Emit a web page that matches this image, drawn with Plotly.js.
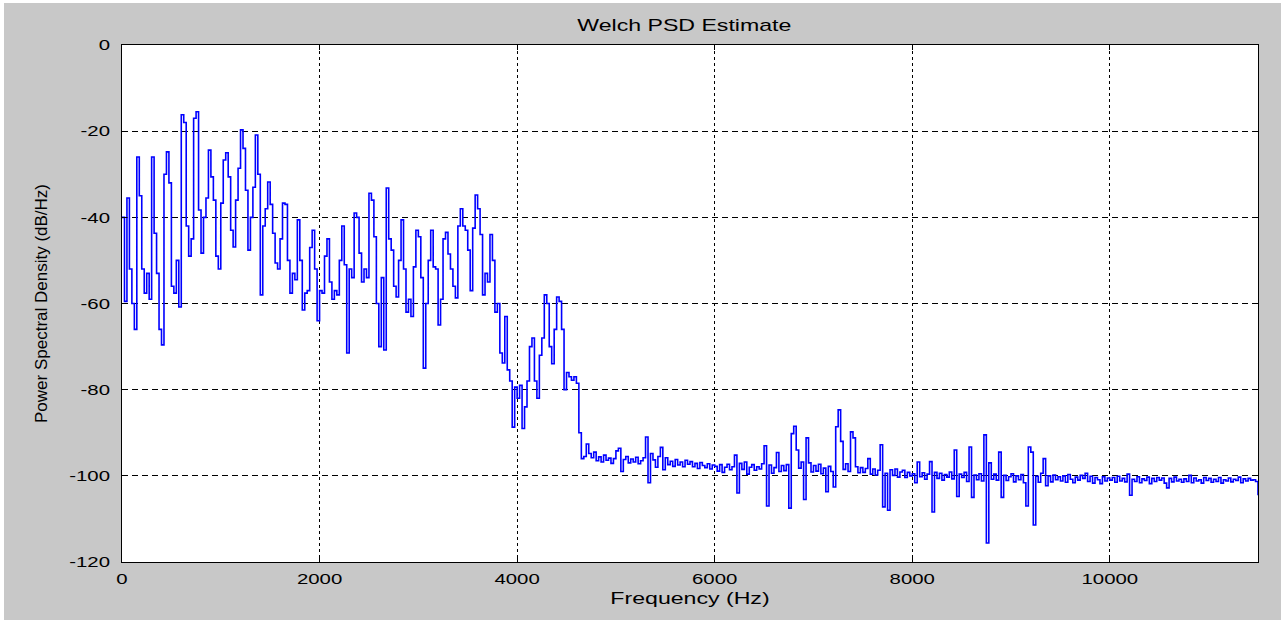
<!DOCTYPE html>
<html>
<head>
<meta charset="utf-8">
<script src="https://cdn.plot.ly/plotly-3.0.1.min.js"></script>
<style>
  html, body { margin: 0; padding: 0; background: #ffffff; width: 1281px; height: 620px; overflow: hidden; }
  #chart { position: absolute; left: 4px; top: 3px; width: 1277px; height: 617px; }
</style>
</head>
<body>
<div id="chart"></div>
<script>
const freqStepHz = 25;
const psdDb = [
  -40, -59.5, -35.5, -52, -60, -66, -26, -35, -52, -57.6,
  -53, -59, -26, -43.7, -53, -66, -69.6, -30, -24.8, -32,
  -56, -57.6, -50, -60.8, -16.2, -18, -42, -49, -45, -17,
  -15.5, -38.3, -48.3, -40, -35.5, -24.4, -30.6, -36, -49, -52,
  -36.7, -26.7, -25, -30.6, -43, -46.9, -36, -28.6, -19.7, -24,
  -33.7, -47.6, -40, -33, -20.9, -30, -58, -42, -38, -31.8,
  -37, -43.7, -50.6, -52, -45, -36.7, -37, -50, -57.6, -53,
  -54.5, -40.6, -50, -61.5, -57.6, -57, -47, -43, -52, -64,
  -57, -57.6, -49, -45, -55, -59, -57, -58, -50, -42,
  -51, -71.5, -52, -54, -39, -40, -48.3, -55, -52, -54,
  -34.4, -36, -44.5, -60, -70, -54, -70.8, -33.2, -45, -47.6,
  -56, -58.5, -50, -40.6, -52, -62, -59, -63, -51.5, -43,
  -44.5, -54, -75, -60, -50, -43, -51.5, -52, -65, -59,
  -45, -43.5, -48.5, -52, -56, -58.7, -42, -38, -42, -43,
  -47.6, -57, -42.5, -34.8, -38, -44, -58, -53, -55, -44,
  -50, -62, -60, -71.5, -73.8, -63, -75.4, -78, -88.7, -79.4,
  -82, -79, -89, -84, -78, -70, -68, -78, -82, -72,
  -68, -58, -60, -70, -74, -66, -58.5, -59.5, -66, -80,
  -76, -77, -77.8, -77, -78.5, -90, -96, -95.5, -92.6, -94.8,
  -95.8, -94.5, -96.5, -95.6, -96.8, -95.2, -96.4, -95.9, -97.1, -96.0,
  -94.2, -93.6, -99.0, -96.2, -95.5, -97.0, -96.1, -96.8, -95.7, -97.2,
  -96.5, -95.8, -91.0, -101.6, -94.8, -96.3, -98.0, -95.5, -93.4, -98.6,
  -95.8, -97.4, -96.6, -97.8, -96.2, -97.5, -96.8, -97.9, -96.4, -97.3,
  -96.7, -97.9, -97.1, -98.3, -96.9, -97.6, -98.1, -97.2, -98.4, -97.5,
  -97.8, -98.9, -97.4, -99.2, -98.0, -97.3, -98.6, -97.9, -95.2, -104.0,
  -97.1, -98.5, -96.8, -99.6, -98.0, -97.4, -98.7, -97.9, -98.4, -97.2,
  -93.0, -107.0, -97.5, -99.4, -98.1, -94.6, -99.0, -97.6, -98.8, -97.4,
  -107.5, -90.2, -88.5, -94.0, -98.2, -96.8, -105.5, -91.2, -97.0, -99.1,
  -97.6, -98.9, -97.3, -99.5, -98.2, -103.7, -97.8, -99.0, -102.6, -88.6,
  -84.7, -92.0, -98.5, -97.2, -99.0, -89.8, -91.2, -97.9, -99.3, -98.1,
  -99.2, -98.3, -96.0, -99.6, -98.4, -99.8, -98.7, -92.8, -107.2, -99.4,
  -108.0, -98.6, -99.9, -98.4, -100.3, -99.1, -98.7, -100.4, -99.2, -100.0,
  -99.5, -101.6, -96.8, -100.2, -99.3, -100.8, -99.6, -96.7, -108.4, -99.2,
  -100.6, -99.4, -101.0, -99.7, -100.3, -99.1, -100.7, -94.0, -104.8, -99.6,
  -100.4, -99.2, -101.3, -93.3, -105.0, -99.8, -100.9, -99.5, -101.2, -90.5,
  -115.6, -97.0, -100.8, -99.6, -101.0, -94.5, -105.0, -99.9, -101.1, -100.2,
  -99.5, -101.4, -100.0, -100.9, -99.7, -101.6, -107.0, -93.3, -94.5, -111.4,
  -100.1, -101.5, -99.4, -96.0, -102.3, -100.0, -101.4, -99.8, -100.9, -100.2,
  -101.2, -100.0, -101.5, -99.7, -100.8, -101.6, -100.3, -101.0, -99.9, -100.6,
  -99.4, -101.3, -100.1, -101.7, -100.4, -100.9, -101.8, -100.2, -101.2, -100.5,
  -101.0, -100.4, -101.5, -100.1, -101.2, -100.6, -101.4, -99.6, -104.5, -100.8,
  -101.3, -100.2, -101.6, -100.7, -101.1, -100.3, -101.8, -100.6, -101.3, -100.4,
  -101.0, -100.5, -101.7, -102.8, -100.6, -101.4, -100.3, -101.2, -100.8, -101.5,
  -100.7, -101.3, -99.9, -101.6, -100.5, -101.2, -100.9, -101.7, -100.4, -101.1,
  -100.6, -101.5, -100.8, -101.3, -100.4, -101.7, -100.9, -101.2, -100.5, -101.4,
  -100.8, -101.1, -100.3, -101.6, -100.7, -101.2, -100.6, -101.0, -100.9, -101.3,
  -104.5
];
const freqHz = psdDb.map((_, i) => i * freqStepHz);

const xTickVals = [0, 2000, 4000, 6000, 8000, 10000];
const xTickText = ['0', '2000', '4000', '6000', '8000', '10000'];
const yTickVals = [0, -20, -40, -60, -80, -100, -120];
const yTickText = ['0', '-20', '-40', '-60', '-80', '-100', '-120'];

const chartTitle = 'Welch PSD Estimate';
const xLabel = 'Frequency (Hz)';
const yLabel = 'Power Spectral Density (dB/Hz)';

const FONT = '"Liberation Sans", Arial, sans-serif';

const trace = {
  type: 'scatter',
  mode: 'lines',
  x: freqHz,
  y: psdDb,
  line: { color: '#0000ff', width: 1.6, shape: 'hv' },
  hoverinfo: 'x+y'
};

const axisCommon = {
  showline: true,
  linecolor: '#000000',
  linewidth: 1,
  mirror: 'ticks',
  ticks: 'inside',
  ticklen: 5,
  tickwidth: 1,
  tickcolor: '#000000',
  showgrid: true,
  gridcolor: '#000000',
  gridwidth: 1,
  zeroline: false,
  tickmode: 'array',
  tickfont: { family: FONT, size: 15, color: '#000000' }
};

const layout = {
  width: 1277,
  height: 617,
  paper_bgcolor: '#c8c8c8',
  plot_bgcolor: '#ffffff',
  margin: { l: 118, r: 23, t: 42, b: 58, pad: 0 },
  showlegend: false,
  title: {
    text: chartTitle,
    font: { family: FONT, size: 17, color: '#000000' },
    x: 0.495, xref: 'paper', xanchor: 'center',
    y: 0.965, yref: 'container', yanchor: 'middle'
  },
  xaxis: Object.assign({}, axisCommon, {
    range: [0, 11500],
    tickvals: xTickVals,
    ticktext: xTickText,
    griddash: '3px,3px',
    ticklabelstandoff: 3,
    title: { text: xLabel, font: { family: FONT, size: 17, color: '#000000' }, standoff: 6 }
  }),
  yaxis: Object.assign({}, axisCommon, {
    range: [-120, 0],
    tickvals: yTickVals,
    ticktext: yTickText,
    griddash: '6px,4px',
    ticklabelstandoff: 8,
    title: { text: yLabel, font: { family: FONT, size: 17, color: '#000000' }, standoff: 28 }
  })
};

function stretchText(el, sx) {
  const x = parseFloat(el.getAttribute('x')) || 0;
  const y = parseFloat(el.getAttribute('y')) || 0;
  const t = el.getAttribute('transform') || '';
  el.setAttribute('transform', (t + ' translate(' + x + ',' + y + ') scale(' + sx + ',1) translate(' + (-x) + ',' + (-y) + ')').trim());
}

Plotly.newPlot('chart', [trace], layout, { staticPlot: true, displayModeBar: false, responsive: false }).then(function (gd) {
  const sx = 1.36;
  gd.querySelectorAll('.xtick text, .ytick text, .gtitle, .xtitle').forEach(function (el) { stretchText(el, sx); });
});
</script>
</body>
</html>
